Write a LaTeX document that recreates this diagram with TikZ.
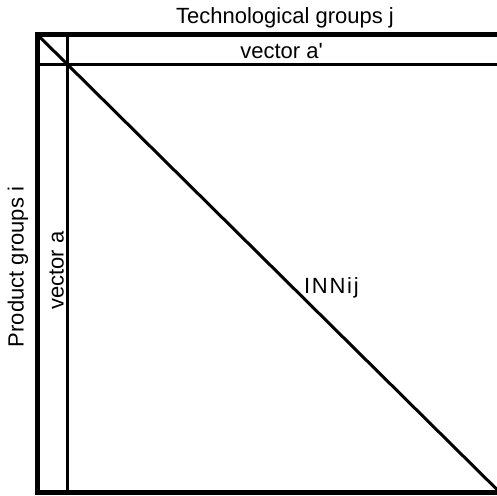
\documentclass[tikz,border=0pt]{standalone}
\usepackage{fontspec}
\setmainfont{Liberation Sans}
\begin{document}
\begin{tikzpicture}[x=1pt,y=-1pt,
  lbl/.style={inner sep=0pt,outer sep=0pt,font=\fontsize{22}{26}\selectfont},
  thick border/.style={line width=5pt},
  thin rule/.style={line width=2.8pt},
  diag/.style={line width=3pt}]
\useasboundingbox (0,0) rectangle (497,495);
\clip (0,0) rectangle (497,495);
\coordinate (tl) at (37.5,34.8);
\coordinate (br) at (499.5,492);
\coordinate (vt) at (67.3,34.8);
\coordinate (vb) at (67.3,492);
\coordinate (hl) at (37.5,64.5);
\coordinate (hr) at (499.5,64.5);
% outer frame
\draw[thick border] (tl) rectangle (br);
% vector rules
\draw[thin rule] (vt) -- (vb);
\draw[thin rule] (hl) -- (hr);
% diagonal
\draw[diag] (tl) -- (br);
% labels
\node[lbl,anchor=base] (title) at (285,24) {Technological groups j};
\node[lbl,anchor=base] (va2) at (281.5,58) {vector a\textquotesingle};
\node[lbl,anchor=base,rotate=90] (prod) at (23.5,267) {Product groups i};
\node[lbl,anchor=base,rotate=90] (va) at (63.5,270.5) {vector a};
\node[lbl,anchor=base west] (inn) at (304,293) {\addfontfeature{LetterSpace=8}INNij};
\end{tikzpicture}
\end{document}
